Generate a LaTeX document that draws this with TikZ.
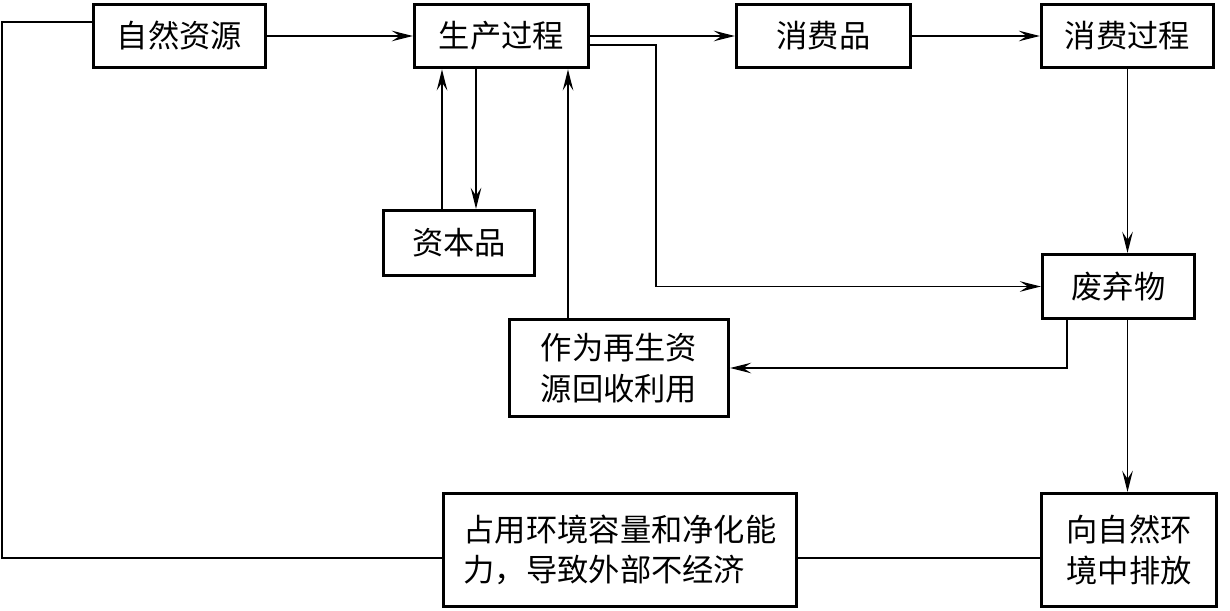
\documentclass[tikz,border=0pt]{standalone}
\usepackage{fontspec}
\newfontfamily\cjk{Noto Sans CJK SC}
\usepackage{tikz}
\usetikzlibrary{arrows.meta, calc}

\tikzset{
    caja/.style={draw=black, line width=1.8pt, fill=white, inner sep=0pt, align=center,
        font=\cjk\fontsize{17.8}{23}\selectfont},
    flecha/.style={-{Stealth[length=12pt, width=6pt, inset=4.5pt]}, line width=1pt},
    linea/.style={line width=1pt}
}

\begin{document}
\begin{tikzpicture}[x=0.02cm, y=-0.02cm]
    \useasboundingbox (0,0) rectangle (1230,611);

    % Fila superior de cajas
    \node[caja, minimum width=3.45cm, minimum height=1.27cm] (zr) at (179.5,36) {自然资源};
    \node[caja, minimum width=3.48cm, minimum height=1.27cm] (sc) at (501.5,36) {生产过程};
    \node[caja, minimum width=3.48cm, minimum height=1.27cm] (xfp) at (823.5,36) {消费品};
    \node[caja, minimum width=3.44cm, minimum height=1.27cm] (xfgc) at (1127.5,36) {消费过程};

    % Cajas intermedias
    \node[caja, minimum width=3.02cm, minimum height=1.30cm] (zbp) at (459,243) {资本品};
    \node[caja, minimum width=3.04cm, minimum height=1.28cm] (fqw) at (1118.5,286.5) {废弃物};
    \node[caja, minimum width=4.38cm, minimum height=1.94cm] (zs) at (619,368) {作为再生资\\源回收利用};

    % Fila inferior
    \node[caja, align=left, minimum width=7.06cm, minimum height=2.26cm] (zy) at (620,550) {占用环境容量和净化能\\力，导致外部不经济};
    \node[caja, minimum width=3.50cm, minimum height=2.26cm] (xzr) at (1129,550) {向自然环\\境中排放};

    % Flujo principal (fila superior)
    \draw[flecha] (zr) -- (sc);
    \draw[flecha] (sc) -- (xfp);
    \draw[flecha] (xfp) -- (xfgc);

    % Produccion -> residuos
    \coordinate (codo) at (656,286.5);
    \draw[flecha] ($(sc.east)+(0,9)$) -| (codo) -- (fqw.west);

    % Bienes de capital (ida y vuelta)
    \coordinate (k1) at ($(zbp.north)+(-17,0)$);
    \coordinate (k2) at ($(zbp.north)+(17,0)$);
    \draw[flecha] (k1) -- (k1 |- sc.south);
    \draw[flecha] (k2 |- sc.south) -- (k2);

    % Reciclaje -> produccion
    \coordinate (p1) at ($(zs.north)+(-51,0)$);
    \draw[flecha] (p1) -- (p1 |- sc.south);

    % Consumo -> residuos -> entorno
    \draw[flecha] (xfgc.south) -- (xfgc.south |- fqw.north);
    \draw[flecha] (fqw.south -| xfgc.south) -- (xzr.north -| xfgc.south);

    % Residuos -> reciclaje
    \coordinate (r1) at ($(fqw.south)+(-51.5,0)$);
    \draw[flecha] (r1) |- (zs.east);

    % Lazo de retorno sin flecha
    \coordinate (esq) at (2,22);
    \draw[linea] ($(xzr.west)+(0,8)$) -- ($(zy.east)+(0,8)$);
    \draw[linea] ($(zy.west)+(0,8)$) -| (esq) -- (esq -| zr.west);
\end{tikzpicture}
\end{document}
